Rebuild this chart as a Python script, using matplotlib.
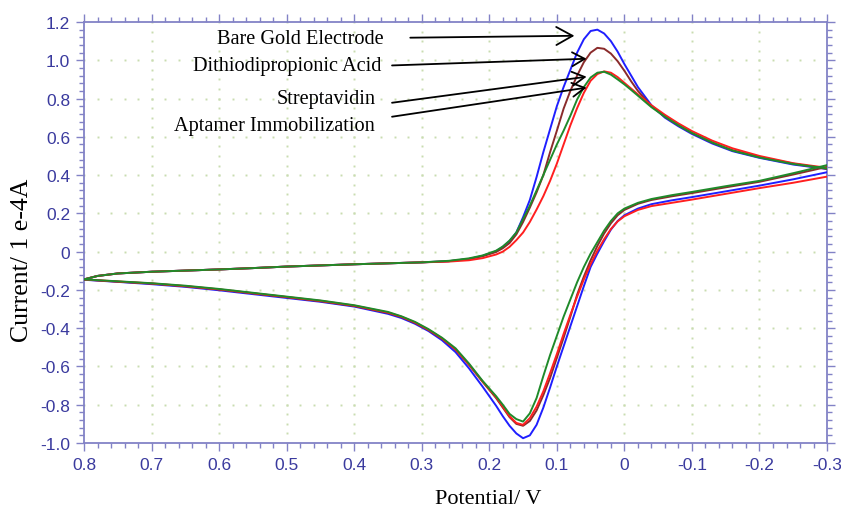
import numpy as np
import matplotlib
matplotlib.use("Agg")
import matplotlib.pyplot as plt
from matplotlib.ticker import MultipleLocator, FuncFormatter

plt.rcParams["font.family"] = ["Liberation Sans", "DejaVu Sans"]

# forward sweep (0.8 V -> -0.3 V)
fwd_potential = [0.80, 0.78, 0.75, 0.70, 0.65, 0.60, 0.55, 0.50, 0.45, 0.40, 0.35, 0.30,
                 0.26, 0.23, 0.21, 0.19, 0.18, 0.17, 0.16, 0.15, 0.14, 0.13, 0.12, 0.11,
                 0.10, 0.09, 0.08, 0.07, 0.06, 0.05, 0.04, 0.03, 0.02, 0.01, 0.00, -0.01,
                 -0.02, -0.04, -0.06, -0.08, -0.10, -0.13, -0.16, -0.20, -0.25, -0.30]
fwd_base = [-0.145, -0.127, -0.114, -0.105, -0.099, -0.093, -0.086, -0.078, -0.072, -0.066,
            -0.061, -0.056]
fwd_blue = fwd_base + [-0.050, -0.038, -0.022, 0.002, 0.025, 0.055, 0.10, 0.18, 0.27, 0.39,
                       0.52, 0.64, 0.76, 0.86, 0.95, 1.04, 1.11, 1.153, 1.160, 1.140,
                       1.10, 1.045, 0.98, 0.92, 0.86, 0.765, 0.70, 0.655, 0.615, 0.565,
                       0.525, 0.49, 0.455, 0.432]
fwd_brown = fwd_base + [-0.050, -0.038, -0.024, -0.002, 0.018, 0.045, 0.09, 0.155, 0.23, 0.31,
                        0.40, 0.52, 0.632, 0.747, 0.84, 0.92, 0.99, 1.04, 1.065, 1.06,
                        1.035, 0.995, 0.945, 0.89, 0.84, 0.76, 0.705, 0.66, 0.62, 0.57,
                        0.53, 0.495, 0.46, 0.432]
fwd_red = fwd_base + [-0.052, -0.045, -0.034, -0.015, 0.0, 0.025, 0.06, 0.10, 0.155, 0.22,
                      0.29, 0.37, 0.46, 0.56, 0.66, 0.75, 0.83, 0.893, 0.928, 0.942,
                      0.935, 0.912, 0.882, 0.852, 0.822, 0.765, 0.715, 0.67, 0.63, 0.58,
                      0.54, 0.50, 0.462, 0.438]
fwd_green = fwd_base + [-0.048, -0.035, -0.020, 0.005, 0.027, 0.058, 0.10, 0.17, 0.24, 0.32,
                        0.40, 0.48, 0.56, 0.632, 0.71, 0.795, 0.86, 0.91, 0.935, 0.94,
                        0.925, 0.90, 0.874, 0.845, 0.815, 0.755, 0.705, 0.66, 0.62, 0.57,
                        0.528, 0.492, 0.458, 0.435]

# reverse sweep (-0.3 V -> 0.8 V)
rev_potential = [-0.30, -0.25, -0.20, -0.15, -0.10, -0.07, -0.04, -0.02,
                 0.00, 0.01, 0.02, 0.03, 0.04, 0.05, 0.06, 0.07, 0.08, 0.09, 0.10,
                 0.11, 0.12, 0.13, 0.14, 0.15, 0.16, 0.17, 0.18, 0.19,
                 0.21, 0.23, 0.25, 0.27, 0.29, 0.31, 0.33, 0.35,
                 0.40, 0.45, 0.50, 0.55, 0.60, 0.65, 0.70, 0.75, 0.80]
rev_blue = [0.415, 0.378, 0.345, 0.315, 0.285, 0.268, 0.248, 0.225,
            0.19, 0.16, 0.115, 0.055, -0.01, -0.08, -0.18, -0.285, -0.39, -0.495, -0.60,
            -0.71, -0.815, -0.905, -0.96, -0.975, -0.95, -0.91, -0.86, -0.805,
            -0.705, -0.61, -0.525, -0.463, -0.415, -0.377, -0.347, -0.325,
            -0.287, -0.262, -0.242, -0.222, -0.202, -0.184, -0.17, -0.158, -0.147]
rev_brown = [0.443, 0.403, 0.365, 0.336, 0.306, 0.289, 0.27, 0.25,
             0.218, 0.19, 0.148, 0.095, 0.03, -0.045, -0.13, -0.225, -0.34, -0.45, -0.555,
             -0.66, -0.75, -0.83, -0.885, -0.91, -0.90, -0.865, -0.815, -0.765,
             -0.68, -0.592, -0.512, -0.455, -0.41, -0.372, -0.342, -0.32,
             -0.284, -0.259, -0.238, -0.218, -0.198, -0.181, -0.167, -0.157, -0.146]
rev_red = [0.392, 0.36, 0.332, 0.302, 0.272, 0.255, 0.238, 0.218,
           0.185, 0.158, 0.118, 0.065, 0.005, -0.065, -0.145, -0.235, -0.33, -0.43, -0.535,
           -0.635, -0.73, -0.81, -0.87, -0.905, -0.895, -0.86, -0.81, -0.76,
           -0.678, -0.59, -0.51, -0.453, -0.408, -0.37, -0.34, -0.318,
           -0.282, -0.257, -0.237, -0.217, -0.197, -0.18, -0.166, -0.156, -0.145]
rev_green = [0.452, 0.41, 0.37, 0.342, 0.312, 0.295, 0.275, 0.255,
             0.225, 0.20, 0.16, 0.11, 0.05, -0.01, -0.08, -0.16, -0.25, -0.34, -0.44,
             -0.54, -0.65, -0.765, -0.845, -0.888, -0.875, -0.848, -0.80, -0.755,
             -0.675, -0.585, -0.505, -0.45, -0.405, -0.367, -0.338, -0.315,
             -0.28, -0.255, -0.235, -0.215, -0.195, -0.178, -0.165, -0.155, -0.145]

labels = ["Bare Gold Electrode", "Dithiodipropionic Acid", "Streptavidin",
          "Aptamer Immobilization"]
label_xy = [(0.357, 1.113), (0.360, 0.972), (0.369, 0.800), (0.369, 0.658)]
arrow_start = [(0.317, 1.118), (0.344, 0.973), (0.344, 0.778), (0.344, 0.705)]
arrow_tip = [(0.074, 1.128), (0.056, 1.008), (0.056, 0.914), (0.056, 0.857)]

spine_col = "#8282c6"
tick_col = "#3a3a9e"
grid_col = "#c9dcb0"

fig = plt.figure(figsize=(8.41, 5.10), dpi=100)
ax = fig.add_axes([0.0999, 0.1294, 0.8835, 0.8255])
ax.set_xlim(0.8, -0.3)
ax.set_ylim(-1.0, 1.2)

# dotted grid at the major ticks
for gx in np.arange(-0.2, 0.75, 0.1):
    gy = np.arange(-1.0, 1.2001, 0.05)
    ax.plot(np.full_like(gy, gx), gy, ls="none", marker="s", ms=1.4, mew=0,
            color=grid_col, zorder=0)
for gy in np.arange(-0.8, 1.05, 0.2):
    gx = np.arange(-0.3, 0.8001, 0.02)
    ax.plot(gx, np.full_like(gx, gy), ls="none", marker="s", ms=1.4, mew=0,
            color=grid_col, zorder=0)

curves = [(fwd_blue, rev_blue, "#1f1fff"),
          (fwd_brown, rev_brown, "#8a2b2b"),
          (fwd_red, rev_red, "#ff1f1f"),
          (fwd_green, rev_green, "#1f8a2a")]
for fwd, rev, col in curves:
    ax.plot(fwd_potential, fwd, color=col, lw=1.4, zorder=3)
    ax.plot(rev_potential, rev, color=col, lw=1.4, zorder=3)

for i, (txt, (tx, ty)) in enumerate(zip(labels, label_xy)):
    ax.text(tx, ty, txt, ha="right", va="center", fontsize=14.6,
            family="Liberation Serif", color="black", zorder=5)
    ms = 26 if i == 0 else 20
    ax.annotate("", xy=arrow_tip[i], xytext=arrow_start[i],
                arrowprops=dict(arrowstyle="->,head_length=0.45,head_width=0.25",
                                color="black", lw=1.3, shrinkA=0, shrinkB=0,
                                mutation_scale=ms), zorder=5)

ax.xaxis.set_major_locator(MultipleLocator(0.1))
ax.xaxis.set_minor_locator(MultipleLocator(0.02))
ax.yaxis.set_major_locator(MultipleLocator(0.2))
ax.yaxis.set_minor_locator(MultipleLocator(0.04))


def fmt(v, _):
    if abs(v) < 1e-9:
        return "0"
    return f"{v:.1f}"


ax.xaxis.set_major_formatter(FuncFormatter(fmt))
ax.yaxis.set_major_formatter(FuncFormatter(fmt))

for s in ax.spines.values():
    s.set_color(spine_col)
    s.set_linewidth(1.3)
ax.tick_params(which="both", direction="out", top=True, right=True,
               color=spine_col, width=1.0, labelcolor=tick_col, labelsize=12.5)
ax.tick_params(which="major", length=6, pad=4)
ax.tick_params(which="minor", length=3.5)

fig.text(0.581, 0.02, "Potential/ V", ha="center", va="center", fontsize=16,
         family="Liberation Serif")
fig.text(0.026, 0.49, "Current/ 1 e-4A", ha="center", va="center", rotation=90,
         fontsize=18.5, family="Liberation Serif")

fig.savefig("out.png", dpi=100, facecolor="white")
